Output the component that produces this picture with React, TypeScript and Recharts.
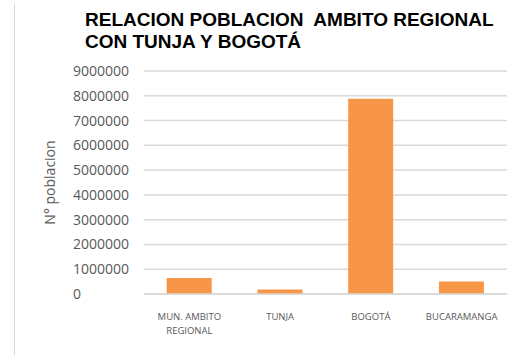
import React from 'react';
import { BarChart, Bar, XAxis, YAxis, CartesianGrid } from 'recharts';

const categories = ['MUN. AMBITO\nREGIONAL', 'TUNJA', 'BOGOTÁ', 'BUCARAMANGA'];
const poblacion = [650000, 180000, 7880000, 500000];
const yTicks = [0, 1000000, 2000000, 3000000, 4000000, 5000000, 6000000, 7000000, 8000000, 9000000];

const data = categories.map((c, i) => ({ name: c, value: poblacion[i] }));

const GRAY = '#595959';

const YTick: React.FC<any> = ({ y, payload }) => (
  <text x={73} y={y} dy={5} textAnchor="start" fontSize={14} fill={GRAY} fontFamily="'Open Sans', sans-serif">
    {payload.value}
  </text>
);

const XTick: React.FC<any> = ({ x, y, payload }) => {
  const lines = String(payload.value).split('\n');
  return (
    <text x={x} y={y} textAnchor="middle" fontSize={9.5} fill={GRAY} fontFamily="'Open Sans', sans-serif">
      {lines.map((l, i) => (
        <tspan key={i} x={x} dy={i === 0 ? 18 : 14}>{l}</tspan>
      ))}
    </text>
  );
};

const YLabel: React.FC<any> = ({ viewBox }) => {
  const cy = viewBox.y + viewBox.height / 2;
  return (
    <text x={55} y={cy} transform={`rotate(-90, 55, ${cy})`} textAnchor="middle" fontSize={14} fill={GRAY} fontFamily="'Open Sans', sans-serif">
      N° poblacion
    </text>
  );
};

export default function App() {
  return (
    <div style={{ position: 'fixed', left: 0, top: 0, width: 531, height: 356, background: '#fff' }}>
      <div style={{ position: 'absolute', left: 14, top: 4, width: 1, height: 351, background: '#d9d9d9' }} />
      <div
        style={{
          position: 'absolute', left: 85, top: 9, fontFamily: "'Liberation Sans', Arial, sans-serif",
          fontWeight: 'bold', fontSize: 19, lineHeight: '22px', color: '#000', whiteSpace: 'pre',
        }}
      >
        {'RELACION POBLACION  AMBITO REGIONAL\nCON TUNJA Y BOGOTÁ'}
      </div>
      <BarChart width={531} height={356} data={data} margin={{ top: 71, right: 24, bottom: 0, left: 0 }} barCategoryGap="25%">
        <CartesianGrid vertical={false} stroke="#d9d9d9" strokeWidth={1.5} />
        <XAxis dataKey="name" height={62} axisLine={{ stroke: '#d9d9d9', strokeWidth: 1.5 }} tickLine={false} tick={<XTick />} interval={0} />
        <YAxis width={144} domain={[0, 9000000]} ticks={yTicks} axisLine={false} tickLine={false} tick={<YTick />} label={<YLabel />} />
        <Bar dataKey="value" fill="#F79646" isAnimationActive={false} />
      </BarChart>
    </div>
  );
}
